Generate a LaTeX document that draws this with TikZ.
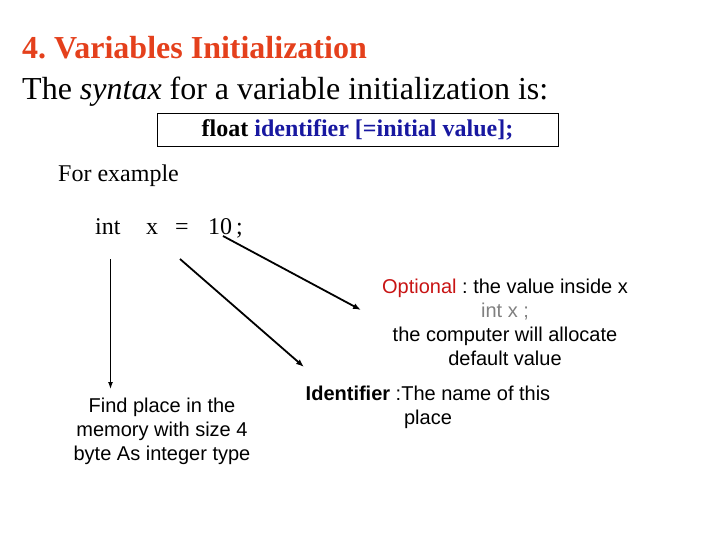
\documentclass[tikz,border=0pt]{standalone}
\usepackage{fontspec}
\setmainfont{Liberation Serif}
\setsansfont{Liberation Sans}
\usetikzlibrary{arrows.meta}
\definecolor{titlecol}{RGB}{228,64,28}
\definecolor{kwblue}{RGB}{24,24,160}
\definecolor{optred}{RGB}{200,20,20}
\definecolor{grayt}{RGB}{128,128,128}
\frenchspacing
\begin{document}
\begin{tikzpicture}[x=1pt,y=-1pt,
  serif/.style={font=\fontsize{32}{36}\selectfont, inner sep=0pt, anchor=base west},
  code/.style={font=\fontsize{24}{28}\selectfont, inner sep=0pt, anchor=base west},
  note/.style={font=\sffamily\fontsize{20}{24}\selectfont, align=center, inner sep=0pt},
  arr/.style={draw=black, line width=1.8pt, -{Latex[length=8pt,width=6pt]}},
  varr/.style={draw=black, line width=1.2pt, -{Latex[length=7pt,width=5pt]}}]
\useasboundingbox (0,0) rectangle (720,540);
\node[serif, text=titlecol, font=\bfseries\fontsize{32}{36}\selectfont] (title) at (22,59) {4. Variables Initialization};
\node[serif] (syntax) at (22,100) {The \textit{syntax} for a variable initialization is:};
\node[draw=black, line width=0.8pt, minimum width=401pt, minimum height=33pt, inner sep=0pt] (box) at (357.5,129.5) {};
\node[font=\bfseries\fontsize{24}{28}\selectfont, inner sep=0pt] (boxtext) at (357.5,130) {float \textcolor{kwblue}{identifier [=initial value];}};
\node[code] (forex) at (58,182) {For example};
\node[code] (int) at (95,234) {int};
\node[code] (x) at (146,234) {x};
\node[code] (eq) at (175,234) {=};
\node[code] (ten) at (208,234) {10};
\node[code] (semi) at (236,234) {;};
\node[note, anchor=north] (opt) at (505,279) {\textcolor{optred}{Optional} : the value inside x\\ \textcolor{grayt}{int x ;}\\ the computer will allocate\\ default value};
\node[note, anchor=north] (find) at (162,398) {Find place in the\\ memory with size 4\\ byte As integer type};
\node[note, anchor=north] (ident) at (428,386) {\textbf{Identifier} :The name of this\\ place};
\coordinate (v1) at (110.5,259);
\coordinate (v2) at (110.5,389);
\coordinate (d1s) at (180,259);
\coordinate (d1e) at (304,367);
\coordinate (d2s) at (223,236);
\coordinate (d2e) at (361,310);
\draw[varr] (v1) -- (v2);
\draw[arr] (d1s) -- (d1e);
\draw[arr] (d2s) -- (d2e);
\end{tikzpicture}
\end{document}
